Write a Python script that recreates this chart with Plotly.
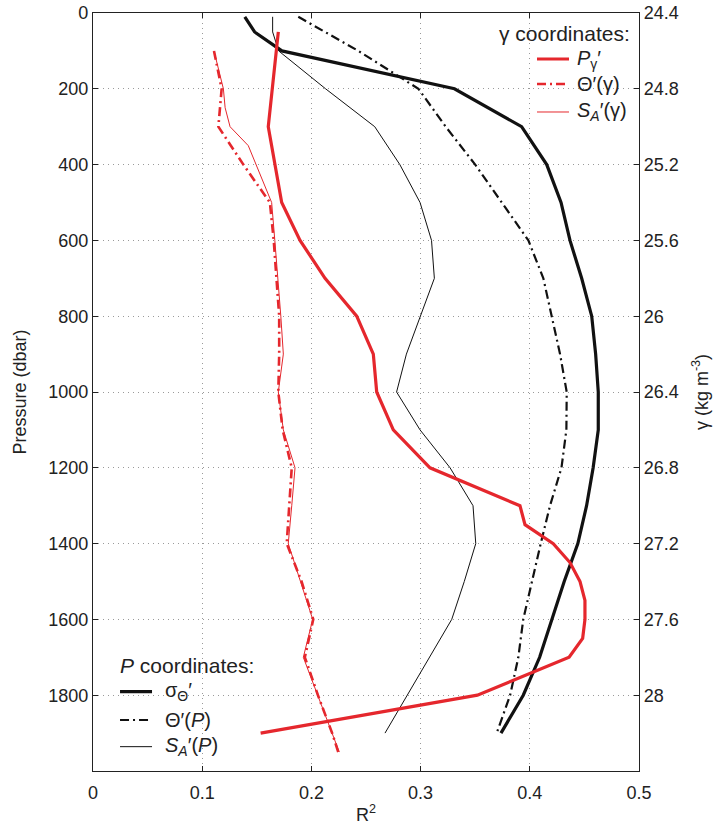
import plotly.graph_objects as go

# ---- Pressure-coordinate profiles (black) ----
p_sigma = [10, 50, 100, 200, 300, 400, 500, 600, 700, 800, 900, 1000,
           1100, 1200, 1300, 1400, 1500, 1600, 1700, 1800, 1900]
r2_sigma = [0.139, 0.148, 0.173, 0.331, 0.3925, 0.4155, 0.4286, 0.4368, 0.4475,
            0.4567, 0.4603, 0.4627, 0.4627, 0.458, 0.452, 0.444, 0.4315, 0.420,
            0.409, 0.394, 0.3736]

p_theta = [10, 100, 200, 300, 400, 500, 600, 700, 800, 900, 1000, 1100,
           1200, 1300, 1400, 1500, 1600, 1700, 1800, 1900]
r2_theta = [0.188, 0.243, 0.298, 0.323, 0.350, 0.3744, 0.3987, 0.4124, 0.420,
            0.4277, 0.4338, 0.4335, 0.429, 0.4185, 0.410, 0.4017, 0.394,
            0.3895, 0.382, 0.3697]

p_salt = [10, 50, 100, 200, 300, 400, 500, 600, 700, 800, 900, 1000,
          1100, 1200, 1300, 1400, 1500, 1600, 1700, 1800, 1900]
r2_salt = [0.1645, 0.1645, 0.170, 0.213, 0.258, 0.281, 0.2995, 0.310, 0.3126,
           0.2995, 0.287, 0.278, 0.2995, 0.327, 0.348, 0.3505, 0.340, 0.3285,
           0.308, 0.288, 0.2674]

# ---- Density-coordinate profiles (red) ----
gamma_pg = [24.5, 25.0, 25.4, 25.6, 25.8, 26.0, 26.2, 26.4, 26.6, 26.8, 27.0,
            27.1, 27.2, 27.3, 27.4, 27.5, 27.6, 27.7, 27.8, 28.0, 28.2]
r2_pg = [0.1697, 0.1605, 0.1728, 0.1896, 0.2125, 0.2415, 0.2567, 0.2598, 0.275,
         0.3086, 0.391, 0.3956, 0.4215, 0.4368, 0.446, 0.4505, 0.4505, 0.4484,
         0.436, 0.352, 0.1535]

gamma_tg = [24.6, 24.8, 25.0, 25.2, 25.4, 25.6, 25.8, 26.0, 26.2, 26.4, 26.6,
            26.8, 27.0, 27.2, 27.4, 27.6, 27.8, 28.0, 28.2, 28.3]
r2_tg = [0.1108, 0.1178, 0.1148, 0.1377, 0.162, 0.1655, 0.168, 0.1705, 0.1705,
         0.1697, 0.1737, 0.182, 0.1797, 0.1774, 0.191, 0.2017, 0.194, 0.206,
         0.219, 0.2246]

gamma_sg = [24.6, 24.8, 24.9, 25.0, 25.1, 25.4, 25.6, 25.8, 26.0, 26.2, 26.4,
            26.6, 26.8, 27.0, 27.2, 27.4, 27.6, 27.8, 28.0, 28.2, 28.3]
r2_sg = [0.1108, 0.1194, 0.121, 0.1255, 0.1422, 0.1636, 0.1665, 0.1695, 0.172,
         0.1743, 0.1697, 0.1743, 0.185, 0.182, 0.1788, 0.190, 0.2012, 0.1926,
         0.2057, 0.2187, 0.2255]

# ---- Axis ticks ----
x_ticks = [0, 0.1, 0.2, 0.3, 0.4, 0.5]
x_labels = ["0", "0.1", "0.2", "0.3", "0.4", "0.5"]
p_ticks = [0, 200, 400, 600, 800, 1000, 1200, 1400, 1600, 1800]
gamma_ticks = [24.4, 24.8, 25.2, 25.6, 26.0, 26.4, 26.8, 27.2, 27.6, 28.0]
gamma_labels = ["24.4", "24.8", "25.2", "25.6", "26", "26.4", "26.8", "27.2", "27.6", "28"]

RED = "#e5272d"
BLACK = "#111111"
DASHDOT = "9px,4px,2px,4px"
FONT = "Liberation Sans, Arial, Helvetica, sans-serif"
TXT = "#222222"

# (name, colour, width, dash, axis, x, y) for every profile
series = [
    ("σ<sub>Θ</sub>′", BLACK, 3.2, "solid", "y", r2_sigma, p_sigma),
    ("Θ′(<i>P</i>)", BLACK, 2.2, DASHDOT, "y", r2_theta, p_theta),
    ("<i>S<sub>A</sub></i>′(<i>P</i>)", BLACK, 1.0, "solid", "y", r2_salt, p_salt),
    ("<i>P</i><sub>γ</sub>′", RED, 3.2, "solid", "y2", r2_pg, gamma_pg),
    ("Θ′(γ)", RED, 2.6, DASHDOT, "y2", r2_tg, gamma_tg),
    ("<i>S<sub>A</sub></i>′(γ)", RED, 1.0, "solid", "y2", r2_sg, gamma_sg),
]

fig = go.Figure()
for name, col, w, dash, ax, xs, ys in series:
    fig.add_trace(go.Scatter(x=xs, y=ys, mode="lines", yaxis=ax, name=name,
                             showlegend=False,
                             line=dict(color=col, width=w, dash=dash)))

# Two keyed legend blocks, placed in paper coordinates:
# one for the pressure-coordinate curves, one for the density-coordinate curves.
key_blocks = [
    # title, title x, title anchor, title y, sample x0, x1, text x, entry y's, series idx
    ("γ coordinates:", 0.9872, "right", 0.9736, 0.8132, 0.8718, 0.8828,
     [0.9393, 0.9063, 0.8694], [3, 4, 5]),
    ("<i>P</i> coordinates:", 0.0458, "left", 0.1398, 0.0495, 0.1081, 0.1282,
     [0.1046, 0.0673, 0.0321], [0, 1, 2]),
]

shapes, annotations = [], []
for title, tx, tanchor, ty, sx0, sx1, txt_x, ys, idx in key_blocks:
    annotations.append(dict(text=title, xref="paper", yref="paper", x=tx, y=ty,
                            xanchor=tanchor, yanchor="middle", showarrow=False,
                            font=dict(size=21, family=FONT, color=TXT)))
    for yy, i in zip(ys, idx):
        name, col, w, dash, *_ = series[i]
        shapes.append(dict(type="line", xref="paper", yref="paper",
                           x0=sx0, x1=sx1, y0=yy, y1=yy,
                           line=dict(color=col, width=w, dash=dash)))
        annotations.append(dict(text=name, xref="paper", yref="paper", x=txt_x, y=yy,
                                xanchor="left", yanchor="middle", showarrow=False,
                                font=dict(size=20, family=FONT, color=TXT)))

grid = dict(showgrid=True, gridcolor="#9a9a9a", gridwidth=1, griddash="1px,4px")
frame = dict(showline=True, linecolor="#222", linewidth=1.2, zeroline=False,
             ticks="inside", ticklen=5, tickcolor="#222", automargin=False,
             tickfont=dict(size=18, color=TXT, family=FONT))

fig.update_layout(
    width=720, height=830,
    margin=dict(l=93, r=81, t=13, b=59),
    paper_bgcolor="white", plot_bgcolor="white",
    font=dict(family=FONT, color=TXT),
    showlegend=False,
    xaxis=dict(range=[0, 0.5], tickvals=x_ticks, ticktext=x_labels,
               mirror="ticks", ticklabelstandoff=5,
               title=dict(text="R<sup>2</sup>", font=dict(size=18), standoff=6),
               **grid, **frame),
    yaxis=dict(range=[2000, 0], tickvals=p_ticks, mirror=True,
               title=dict(text="Pressure (dbar)", font=dict(size=18), standoff=16),
               **grid, **frame),
    yaxis2=dict(range=[28.4, 24.4], overlaying="y", side="right",
                tickvals=gamma_ticks, ticktext=gamma_labels, showgrid=False,
                title=dict(text="γ (kg m<sup>-3</sup>)", font=dict(size=18), standoff=17),
                **frame),
    shapes=shapes,
    annotations=annotations,
)

fig.write_html("out.html")
